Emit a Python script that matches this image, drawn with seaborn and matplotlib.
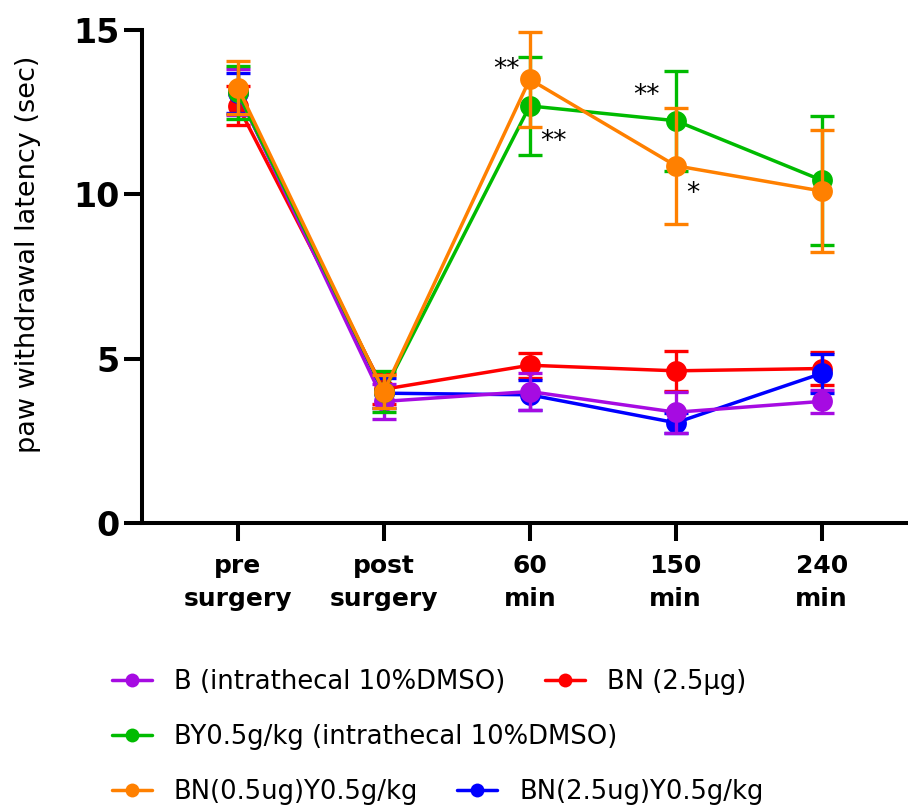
import numpy as np
import pandas as pd
import matplotlib
matplotlib.use("Agg")
import matplotlib.pyplot as plt
import seaborn as sns
from matplotlib.lines import Line2D
from matplotlib import font_manager as fm

# ---------------- data ----------------
timepoints = ["pre\nsurgery", "post\nsurgery", "60\nmin", "150\nmin", "240\nmin"]
groups = ["B (intrathecal 10%DMSO)", "BN (2.5μg)",
          "BY0.5g/kg (intrathecal 10%DMSO)", "BN(0.5ug)Y0.5g/kg",
          "BN(2.5ug)Y0.5g/kg"]
colors = ["#A60BE2", "#FF0000", "#00BB00", "#FF8000", "#0000FF"]

b_mean = [13.1, 3.70, 4.00, 3.37, 3.70]
b_err = [0.70, 0.54, 0.56, 0.63, 0.34]
bn_mean = [12.7, 4.07, 4.80, 4.63, 4.70]
bn_err = [0.60, 0.45, 0.38, 0.60, 0.50]
by_mean = [13.1, 4.00, 12.69, 12.24, 10.43]
by_err = [0.80, 0.62, 1.50, 1.52, 1.96]
bn05y_mean = [13.25, 4.00, 13.50, 10.87, 10.10]
bn05y_err = [0.82, 0.50, 1.44, 1.77, 1.85]
bn25y_mean = [13.08, 3.95, 3.90, 3.05, 4.55]
bn25y_err = [0.62, 0.45, 0.45, 0.30, 0.60]

sig_labels = ["**", "**", "**", "*"]
sig_x = [1.84, 2.16, 2.80, 3.12]
sig_y = [13.78, 11.6, 12.99, 10.0]

means = [b_mean, bn_mean, by_mean, bn05y_mean, bn25y_mean]
errs = [b_err, bn_err, by_err, bn05y_err, bn25y_err]

rows = []
for g, m, e in zip(groups, means, errs):
    for xi, (mv, ev) in enumerate(zip(m, e)):
        rows.append({"group": g, "x": xi, "mean": mv, "err": ev})
df = pd.DataFrame(rows)

# ---------------- style ----------------
sns.set_style("ticks")
plt.rcParams["font.family"] = ["DejaVu Sans"]
for k in ["text.color", "axes.labelcolor", "xtick.color", "ytick.color",
          "axes.edgecolor"]:
    plt.rcParams[k] = "black"

names = {f.name for f in fm.fontManager.ttflist}
if "Liberation Sans Narrow" in names:
    xfam, xsize = ["Liberation Sans Narrow", "DejaVu Sans"], 24
else:
    xfam, xsize = ["DejaVu Sans"], 18

fig = plt.figure(figsize=(9.08, 8.05), dpi=100)
W, H = 908, 805
ax = fig.add_axes([141.5 / W, 282 / H, (918 - 141.5) / W, 493 / H])

order = [1, 4, 0, 2, 3]
for i in order:
    d = df[df["group"] == groups[i]]
    ax.errorbar(d["x"], d["mean"], yerr=d["err"], fmt="none",
                ecolor=colors[i], elinewidth=2.4, capsize=8.3, capthick=2.4)
    sns.lineplot(data=d, x="x", y="mean", color=colors[i], marker="o",
                 markersize=15, markeredgewidth=0, linewidth=2.5,
                 errorbar=None, legend=False, ax=ax)

for lab, sx, sy in zip(sig_labels, sig_x, sig_y):
    ax.text(sx, sy, lab, fontsize=19, ha="center", va="center", color="black")

ax.set_xlim(-0.66, 4.66)
ax.set_ylim(0, 15)
ax.set_yticks([0, 5, 10, 15])
ax.set_xticks(range(len(timepoints)))
ax.set_xticklabels(timepoints, fontsize=xsize, fontweight="bold",
                   family=xfam, linespacing=1.5)
for t in ax.get_yticklabels():
    t.set_fontsize(24)
    t.set_fontweight("bold")
ax.set_xlabel("")
ax.set_ylabel("paw withdrawal latency (sec)", fontsize=19.5)
ax.yaxis.set_label_coords(-0.13, 0.544)

for s in ["top", "right"]:
    ax.spines[s].set_visible(False)
for s in ["left", "bottom"]:
    ax.spines[s].set_linewidth(2.9)
    ax.spines[s].set_color("black")
ax.tick_params(axis="both", which="major", length=13, width=2.9,
               color="black", direction="out", left=True, bottom=True)
ax.tick_params(axis="y", pad=3)
ax.tick_params(axis="x", pad=9)

# ---------------- legend ----------------
leg_pos = {0: (112, 682), 1: (545, 682), 2: (112, 737), 3: (112, 792), 4: (457, 792)}
lfs = 18.6
for i, (px, py) in leg_pos.items():
    h = Line2D([], [], color=colors[i], marker="o", markersize=10,
               markeredgewidth=0, linewidth=2.5)
    lg = fig.legend([h], [groups[i]], loc="center left",
                    bbox_to_anchor=(px / W, 1 - py / H),
                    bbox_transform=fig.transFigure, frameon=False,
                    fontsize=lfs, borderpad=0, borderaxespad=0,
                    handlelength=1.55, handletextpad=0.85,
                    labelcolor="black")

fig.savefig("out.png", dpi=100)
